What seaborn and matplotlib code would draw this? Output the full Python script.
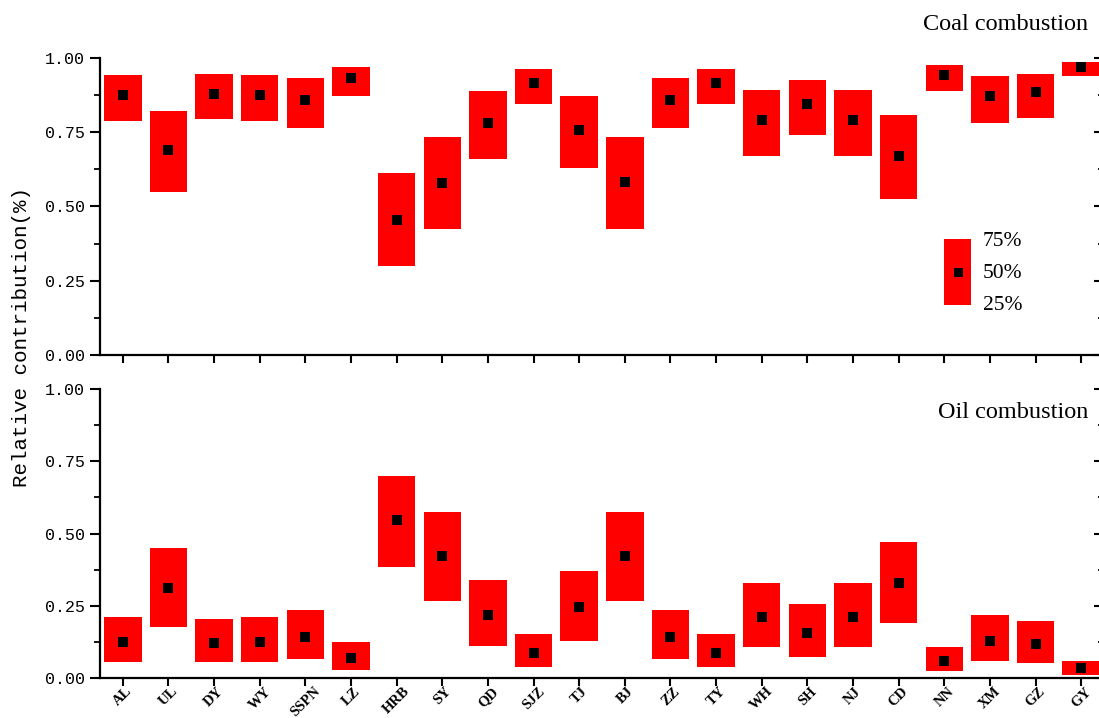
import numpy as np
import pandas as pd
import matplotlib
matplotlib.use("Agg")
import matplotlib.pyplot as plt
import seaborn as sns
from matplotlib.ticker import MultipleLocator, AutoMinorLocator, FormatStrFormatter
from matplotlib.patches import Rectangle

# Sampling sites
cities = ["AL", "UL", "DY", "WY", "SSPN", "LZ", "HRB", "SY", "QD", "SJZ", "TJ",
          "BJ", "ZZ", "TY", "WH", "SH", "NJ", "CD", "NN", "XM", "GZ", "GY"]

# Coal combustion: 25th percentile, median, 75th percentile
coal_q1 = [0.788, 0.548, 0.794, 0.788, 0.764, 0.872, 0.298, 0.425, 0.661, 0.845, 0.629,
           0.425, 0.763, 0.845, 0.670, 0.742, 0.670, 0.526, 0.890, 0.781, 0.799, 0.938]
coal_med = [0.875, 0.690, 0.879, 0.875, 0.860, 0.931, 0.454, 0.579, 0.782, 0.915, 0.758,
            0.581, 0.860, 0.915, 0.790, 0.845, 0.790, 0.671, 0.942, 0.873, 0.885, 0.970]
coal_q3 = [0.942, 0.822, 0.945, 0.942, 0.933, 0.971, 0.613, 0.733, 0.888, 0.962, 0.871,
           0.734, 0.933, 0.962, 0.893, 0.926, 0.892, 0.808, 0.975, 0.940, 0.947, 0.988]

# Oil combustion: 25th percentile, median, 75th percentile
oil_q1 = [0.057, 0.176, 0.055, 0.057, 0.066, 0.029, 0.385, 0.268, 0.112, 0.037, 0.129,
          0.268, 0.066, 0.038, 0.107, 0.074, 0.107, 0.189, 0.023, 0.059, 0.052, 0.012]
oil_med = [0.125, 0.310, 0.121, 0.125, 0.141, 0.069, 0.546, 0.422, 0.219, 0.087, 0.245,
           0.422, 0.143, 0.088, 0.212, 0.156, 0.212, 0.330, 0.060, 0.128, 0.116, 0.033]
oil_q3 = [0.210, 0.450, 0.205, 0.210, 0.235, 0.126, 0.699, 0.573, 0.338, 0.152, 0.369,
          0.573, 0.235, 0.152, 0.329, 0.255, 0.329, 0.472, 0.108, 0.217, 0.198, 0.060]

W, H = 1099, 718
fig = plt.figure(figsize=(W / 100, H / 100), dpi=100)
fig.patch.set_facecolor("white")

MONO = "Liberation Mono"
SERIF = "Liberation Serif"


def px_axes(left, top, right, bottom):
    return fig.add_axes([left / W, 1 - bottom / H, (right - left) / W, (bottom - top) / H])


def draw_panel(ax, q1, med, q3, show_labels):
    df = pd.DataFrame({"city": cities, "q1": q1, "med": med, "q3": q3})
    df["iqr"] = df["q3"] - df["q1"]
    sns.barplot(data=df, x="city", y="iqr", bottom=df["q1"].to_numpy(),
                color="#ff0000", saturation=1, width=0.82, errorbar=None,
                edgecolor="none", linewidth=0, ax=ax)
    sns.pointplot(data=df, x="city", y="med", color="black", markers="s",
                  linestyle="none", markersize=6.5, markeredgewidth=0,
                  errorbar=None, ax=ax)
    ax.set_xlim(-0.5, len(cities) - 0.5)
    ax.set_ylim(0, 1)
    ax.set_xlabel("")
    ax.set_ylabel("")
    ax.set_facecolor("white")
    for s in ("top", "right"):
        ax.spines[s].set_visible(False)
    for s in ("left", "bottom"):
        ax.spines[s].set_linewidth(1.6)
        ax.spines[s].set_color("black")
    ax.yaxis.set_major_locator(MultipleLocator(0.25))
    ax.yaxis.set_minor_locator(AutoMinorLocator(2))
    ax.yaxis.set_major_formatter(FormatStrFormatter("%.2f"))
    ax.tick_params(axis="y", which="major", direction="out", length=7, width=1.5,
                   pad=4, labelsize=12)
    ax.tick_params(axis="y", which="minor", direction="out", length=4, width=1.3)
    ax.tick_params(axis="x", which="major", direction="out", length=6, width=1.5,
                   pad=-1, labelsize=10.5)
    ax.set_xticks(range(len(cities)))
    for lab in ax.get_yticklabels():
        lab.set_fontfamily(MONO)
    if show_labels:
        ax.set_xticklabels(cities, rotation=45, ha="center", fontfamily=SERIF,
                           fontweight="bold")
    else:
        ax.set_xticklabels([])
    sec = ax.secondary_yaxis("right")
    sec.yaxis.set_major_locator(MultipleLocator(0.25))
    sec.yaxis.set_minor_locator(AutoMinorLocator(2))
    sec.tick_params(which="major", direction="in", length=7, width=1.5, labelright=False)
    sec.tick_params(which="minor", direction="in", length=4, width=1.3)
    sec.spines["right"].set_linewidth(1.6)


ax_top = px_axes(100, 58, 1104, 355)
ax_bot = px_axes(100, 389, 1104, 678)

draw_panel(ax_top, coal_q1, coal_med, coal_q3, show_labels=False)
draw_panel(ax_bot, oil_q1, oil_med, oil_q3, show_labels=True)

fig.text(1088 / W, 1 - 24 / H, "Coal combustion", ha="right", va="center",
         fontfamily=SERIF, fontsize=17.5)
fig.text(1088 / W, 1 - 412 / H, "Oil combustion", ha="right", va="center",
         fontfamily=SERIF, fontsize=17.5)
fig.text(22 / W, 1 - 337 / H, "Relative contribution(%)", rotation=90,
         ha="center", va="center", fontfamily=MONO, fontsize=15)

# Percentile key
fig.patches.append(Rectangle((944 / W, 1 - 305 / H), 27 / W, 66 / H,
                             transform=fig.transFigure, facecolor="#ff0000",
                             edgecolor="none", zorder=3))
fig.patches.append(Rectangle((953.5 / W, 1 - 277.5 / H), 9 / W, 9 / H,
                             transform=fig.transFigure, facecolor="black",
                             edgecolor="none", zorder=4))
for label, y in (("75%", 241), ("50%", 273), ("25%", 305)):
    fig.text(983 / W, 1 - y / H, label, ha="left", va="center",
             fontfamily=SERIF, fontsize=15.5)

fig.savefig("out.png", dpi=100, facecolor="white")
